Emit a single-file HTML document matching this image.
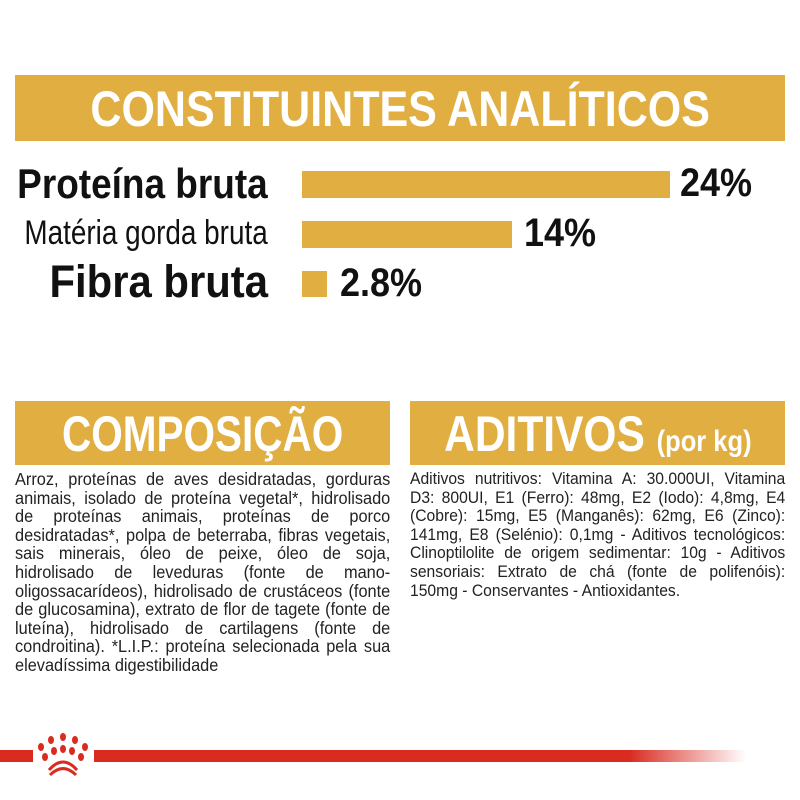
<!DOCTYPE html>
<html><head><meta charset="utf-8"><style>
body{margin:0;width:800px;height:800px;background:#fff;position:relative;overflow:hidden;font-family:"Liberation Sans",sans-serif;}
.band{position:absolute;background:#e0ae41;color:#fff;font-weight:bold;text-align:center;white-space:nowrap;}
.band span.s{display:inline-block;}
.lbl{position:absolute;right:532px;white-space:nowrap;color:#111;text-align:right;font-weight:bold;transform-origin:right center;}
.bar{position:absolute;left:302px;background:#e0ae41;}
.pct{position:absolute;font-weight:bold;font-size:40px;color:#111;transform:scaleX(0.9);transform-origin:left center;}
.txt{position:absolute;top:470px;width:395px;font-size:16.5px;line-height:18.6px;text-align:justify;color:#222;transform:scaleX(0.95);transform-origin:left top;}
</style></head><body>
<div class="band" style="left:15px;top:75px;width:770px;height:66px;font-size:50px;line-height:68px;"><span class="s" style="transform:scaleX(0.86)">CONSTITUINTES ANALÍTICOS</span></div>
<div class="lbl" style="top:160px;font-size:42px;transform:scaleX(0.88)">Proteína bruta</div>
<div class="lbl" style="top:214px;font-size:34px;font-weight:normal;transform:scaleX(0.82)">Matéria gorda bruta</div>
<div class="lbl" style="top:256px;font-size:45px;transform:scaleX(0.93)">Fibra bruta</div>
<div class="bar" style="top:171px;width:368px;height:27px"></div>
<div class="bar" style="top:221px;width:210px;height:27px"></div>
<div class="bar" style="top:271px;width:25px;height:26px"></div>
<div class="pct" style="left:680px;top:161px">24%</div>
<div class="pct" style="left:524px;top:211px">14%</div>
<div class="pct" style="left:340px;top:261px">2.8%</div>
<div class="band" style="left:15px;top:401px;width:375px;height:64px;font-size:50px;line-height:66px;"><span class="s" style="transform:scaleX(0.81)">COMPOSIÇÃO</span></div>
<div class="band" style="left:410px;top:401px;width:375px;height:64px;font-size:50px;line-height:66px;"><span class="s" style="transform:scaleX(0.85)">ADITIVOS <span style="font-size:30px">(por kg)</span></span></div>
<div class="txt" style="left:15px;font-size:17.2px">Arroz, proteínas de aves desidratadas, gorduras animais, isolado de proteína vegetal*, hidrolisado de proteínas animais, proteínas de porco desidratadas*, polpa de beterraba, fibras vegetais, sais minerais, óleo de peixe, óleo de soja, hidrolisado de leveduras (fonte de mano-oligossacarídeos), hidrolisado de crustáceos (fonte de glucosamina), extrato de flor de tagete (fonte de luteína), hidrolisado de cartilagens (fonte de condroitina). *L.I.P.: proteína selecionada pela sua elevadíssima digestibilidade</div>
<div class="txt" style="left:410px">Aditivos nutritivos: Vitamina A: 30.000UI, Vitamina D3: 800UI, E1 (Ferro): 48mg, E2 (Iodo): 4,8mg, E4 (Cobre): 15mg, E5 (Manganês): 62mg, E6 (Zinco): 141mg, E8 (Selénio): 0,1mg - Aditivos tecnológicos: Clinoptilolite de origem sedimentar: 10g - Aditivos sensoriais: Extrato de chá (fonte de polifenóis): 150mg - Conservantes - Antioxidantes.</div>
<div style="position:absolute;left:0;top:750px;width:33px;height:12px;background:#d92b1f"></div>
<div style="position:absolute;left:94px;top:750px;width:652px;height:12px;background:linear-gradient(to right,#d92b1f 0%,#d92b1f 82%,rgba(217,43,31,0) 100%)"></div>
<svg style="position:absolute;left:35px;top:730px" width="60" height="50" viewBox="0 0 60 50">
<g fill="#d92b1f">
<ellipse cx="6" cy="17" rx="3" ry="4"/><ellipse cx="16" cy="10" rx="3" ry="4"/><ellipse cx="28" cy="7" rx="3" ry="4"/><ellipse cx="40" cy="10" rx="3" ry="4"/><ellipse cx="50" cy="17" rx="3" ry="4"/>
<ellipse cx="10" cy="27" rx="3" ry="4"/><ellipse cx="19" cy="21" rx="3" ry="4"/><ellipse cx="28" cy="19" rx="3" ry="4"/><ellipse cx="37" cy="21" rx="3" ry="4"/><ellipse cx="46" cy="27" rx="3" ry="4"/>
</g>
<path d="M14 40 Q28 24 42 40" stroke="#d92b1f" stroke-width="3" fill="none"/>
<path d="M15 45 Q28 32 41 45" stroke="#d92b1f" stroke-width="3" fill="none"/>
</svg>
</body></html>
